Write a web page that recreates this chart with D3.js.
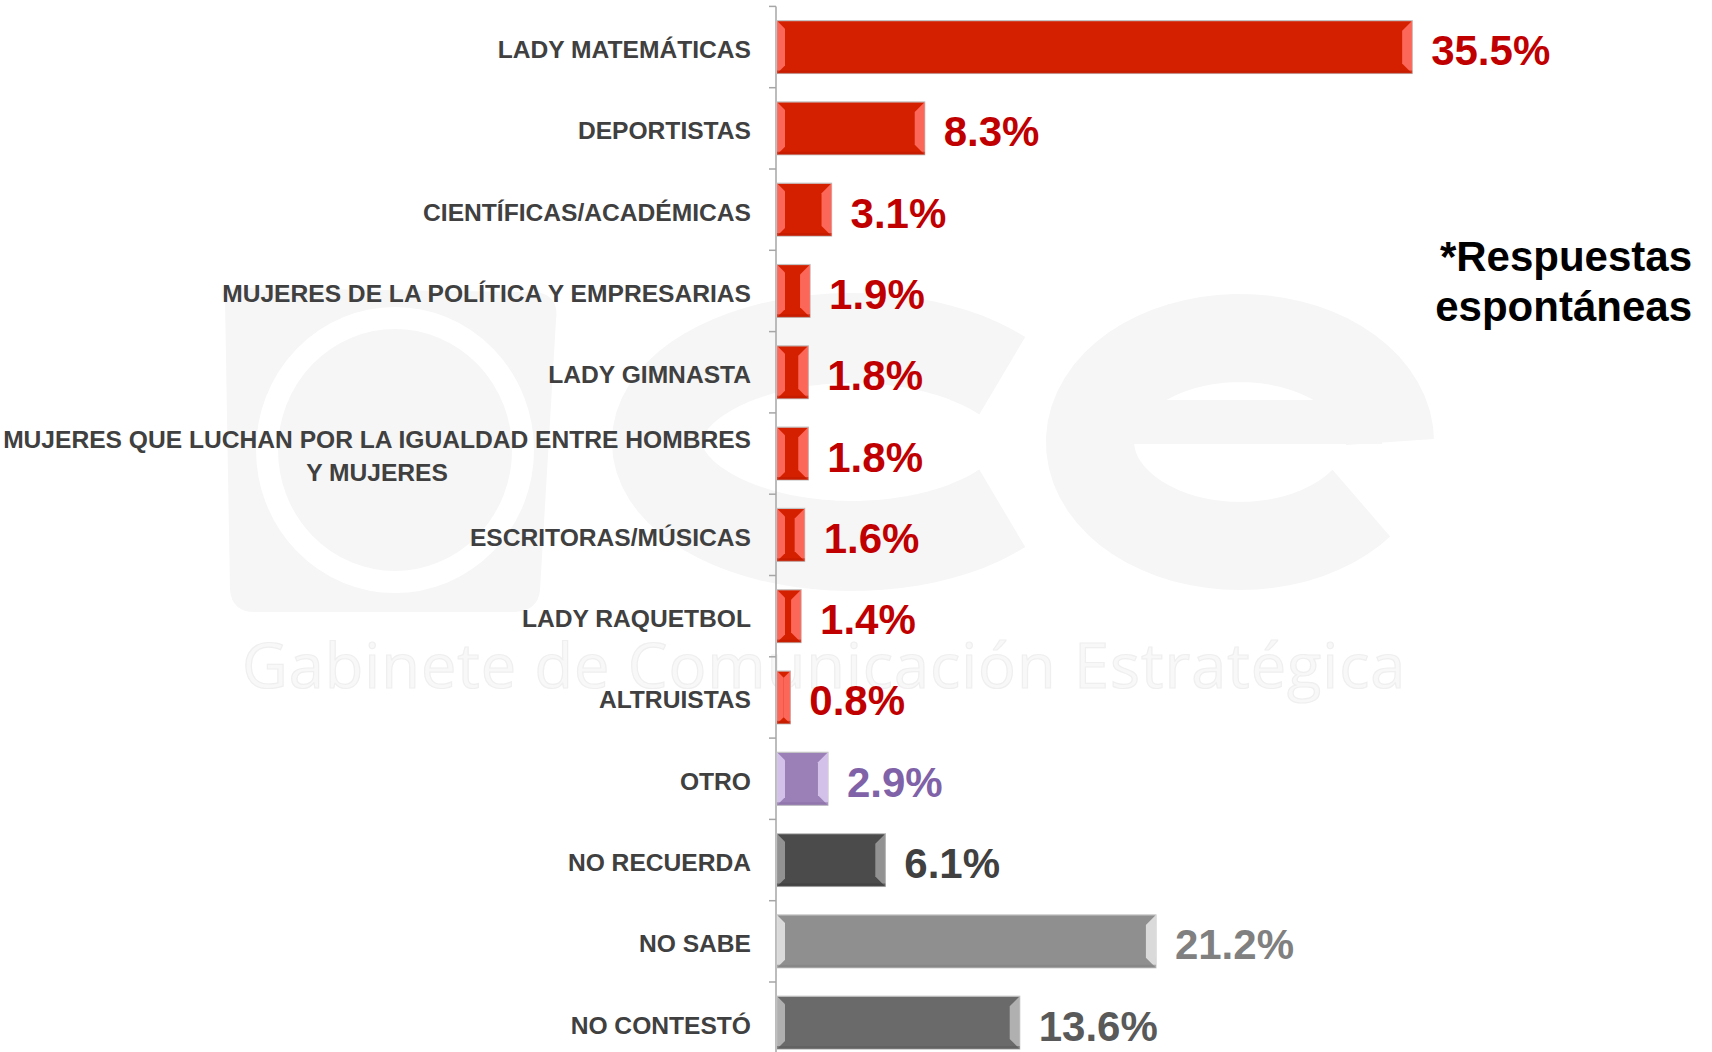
<!DOCTYPE html>
<html>
<head>
<meta charset="utf-8">
<script src="https://cdn.jsdelivr.net/npm/d3@7"></script>
<style>
  html, body { margin: 0; padding: 0; background: #ffffff; }
  svg { display: block; }
</style>
</head>
<body>
<svg id="chart" width="1712" height="1052"></svg>
<script>
// ---------- data ----------
const categories = [
  "LADY MATEMÁTICAS",
  "DEPORTISTAS",
  "CIENTÍFICAS/ACADÉMICAS",
  "MUJERES DE LA POLÍTICA Y EMPRESARIAS",
  "LADY GIMNASTA",
  "MUJERES QUE LUCHAN POR LA IGUALDAD ENTRE HOMBRES Y MUJERES",
  "ESCRITORAS/MÚSICAS",
  "LADY RAQUETBOL",
  "ALTRUISTAS",
  "OTRO",
  "NO RECUERDA",
  "NO SABE",
  "NO CONTESTÓ"
];
const labelLines = [
  ["LADY MATEMÁTICAS"],
  ["DEPORTISTAS"],
  ["CIENTÍFICAS/ACADÉMICAS"],
  ["MUJERES DE LA POLÍTICA Y EMPRESARIAS"],
  ["LADY GIMNASTA"],
  ["MUJERES QUE LUCHAN POR LA IGUALDAD ENTRE HOMBRES", "Y MUJERES"],
  ["ESCRITORAS/MÚSICAS"],
  ["LADY RAQUETBOL"],
  ["ALTRUISTAS"],
  ["OTRO"],
  ["NO RECUERDA"],
  ["NO SABE"],
  ["NO CONTESTÓ"]
];
const values = [35.5, 8.3, 3.1, 1.9, 1.8, 1.8, 1.6, 1.4, 0.8, 2.9, 6.1, 21.2, 13.6];
const groups = ["mention","mention","mention","mention","mention","mention","mention","mention","mention",
                "otro","norecuerda","nosabe","nocontesto"];
const noteLines = ["*Respuestas", "espontáneas"];
const watermarkText = "Gabinete de Comunicación Estratégica";

// ---------- styles ----------
const barFill  = { mention: "#d52000", otro: "#9a80b6", norecuerda: "#4b4b4b", nosabe: "#8f8f8f", nocontesto: "#6a6a6a" };
const barLight = { mention: "#ff6f62", otro: "#d9c8ee", norecuerda: "#9a9a9a", nosabe: "#e2e2e2", nocontesto: "#b8b8b8" };
const barDark  = { mention: "#c01a00", otro: "#8a70a6", norecuerda: "#3e3e3e", nosabe: "#828282", nocontesto: "#5e5e5e" };
const valColor = { mention: "#c00000", otro: "#7f62a8", norecuerda: "#404040", nosabe: "#808080", nocontesto: "#595959" };

const svg = d3.select("#chart");
const axisX = 776;

const x = d3.scaleLinear().domain([0, 40]).range([axisX, axisX + 40 * 17.92]);
const y = d3.scaleBand().domain(categories).range([6.4, 6.4 + 13 * 81.3]).paddingInner(0.35).paddingOuter(0.175);

// ---------- watermark ----------
const wm = svg.append("g").attr("class", "watermark");
const wmCol = "#f6f6f6";
// logo block
wm.append("path")
  .attr("d", "M225,300 Q215,290 240,288 L530,292 Q560,292 556,320 L540,590 Q538,612 512,612 L255,612 Q232,612 230,590 Z")
  .attr("fill", wmCol);
wm.append("ellipse").attr("cx", 395).attr("cy", 450).attr("rx", 128).attr("ry", 132)
  .attr("fill", wmCol).attr("stroke", "#ffffff").attr("stroke-width", 22);
// "c"
wm.append("path")
  .attr("d", () => {
    const cx = 852, cy = 442, rx = 195, ry = 104;
    const a0 = Math.PI * 0.22, a1 = Math.PI * 1.78;
    const p = d3.path();
    d3.range(0, 61).map(i => a0 + (a1 - a0) * i / 60).forEach((a, i) => {
      const px = cx + rx * Math.cos(a), py = cy - ry * Math.sin(a);
      if (i === 0) p.moveTo(px, py); else p.lineTo(px, py);
    });
    return p.toString();
  })
  .attr("fill", "none").attr("stroke", wmCol).attr("stroke-width", 90);
// "e"
wm.append("path")
  .attr("d", () => {
    const cx = 1240, cy = 442, rx = 150, ry = 104;
    const a0 = Math.PI * 0.0, a1 = Math.PI * 1.8;
    const p = d3.path();
    d3.range(0, 61).map(i => a0 + (a1 - a0) * i / 60).forEach((a, i) => {
      const px = cx + rx * Math.cos(a), py = cy - ry * Math.sin(a);
      if (i === 0) p.moveTo(px, py); else p.lineTo(px, py);
    });
    return p.toString();
  })
  .attr("fill", "none").attr("stroke", wmCol).attr("stroke-width", 88);
wm.append("rect").attr("x", 1120).attr("y", 400).attr("width", 262).attr("height", 44).attr("fill", wmCol);
wm.append("text").attr("x", 242).attr("y", 688)
  .attr("font-family", "Open Sans, sans-serif").attr("font-size", 63).attr("letter-spacing", 1)
  .attr("fill", "#f8f8f8").attr("stroke", "#efefef").attr("stroke-width", 1.2)
  .text(watermarkText);

// ---------- axis ----------
const step = y.step();
const halfGap = step * y.paddingInner() / 2;
const axisG = svg.append("g").attr("transform", `translate(${axisX},0)`)
  .call(d3.axisLeft(y).tickSize(0).tickFormat(""));
axisG.select(".domain").attr("stroke", "#a6a6a6").attr("stroke-width", 1.5)
  .attr("d", `M0,${y.range()[0]}V${y.range()[1]}`);
const boundaries = categories.map(c => y(c) - halfGap);
svg.append("g").selectAll("line").data(boundaries).join("line")
  .attr("x1", axisX - 7).attr("x2", axisX).attr("y1", d => d).attr("y2", d => d)
  .attr("stroke", "#a6a6a6").attr("stroke-width", 1.5);

// ---------- bars ----------
const bh = y.bandwidth();
const bars = svg.append("g").selectAll("g").data(categories).join("g");
bars.append("rect")
  .attr("x", axisX + 1)
  .attr("y", c => y(c))
  .attr("width", (c, i) => x(values[i]) - axisX - 1)
  .attr("height", bh)
  .attr("fill", (c, i) => barFill[groups[i]])
  .attr("stroke", "#c4c4c4").attr("stroke-width", 1.2);

// bevel facets
bars.append("path")
  .attr("d", (c, i) => {
    const x0 = axisX + 1, x1 = x(values[i]);
    const w = Math.min(8, (x1 - x0) / 2), y0 = y(c), y1 = y0 + bh;
    return `M${x0},${y0}L${x0 + w},${y0 + w}L${x0 + w},${y1 - w}L${x0},${y1}Z`;
  })
  .attr("fill", (c, i) => barLight[groups[i]]).attr("opacity", 0.9);
bars.append("path")
  .attr("d", (c, i) => {
    const x0 = axisX + 1, x1 = x(values[i]);
    const w = Math.min(10, (x1 - x0) / 2), y0 = y(c), y1 = y0 + bh;
    return `M${x1},${y0}L${x1 - w},${y0 + w}L${x1 - w},${y1 - w}L${x1},${y1}Z`;
  })
  .attr("fill", (c, i) => barLight[groups[i]]).attr("opacity", 0.9);
bars.append("path")
  .attr("d", (c, i) => {
    const x0 = axisX + 1, x1 = x(values[i]);
    const y1 = y(c) + bh;
    return `M${x0},${y1 - 1.5}H${x1}`;
  })
  .attr("stroke", (c, i) => barDark[groups[i]]).attr("stroke-width", 3).attr("opacity", 0.6);

// ---------- value labels ----------
svg.append("g").selectAll("text").data(categories).join("text")
  .attr("x", (c, i) => x(values[i]) + 19)
  .attr("y", c => y(c) + bh / 2 + 18)
  .attr("font-family", "Liberation Sans, Arial, sans-serif")
  .attr("font-weight", "bold")
  .attr("font-size", 42)
  .attr("fill", (c, i) => valColor[groups[i]])
  .text((c, i) => values[i].toFixed(1) + "%");

// ---------- category labels ----------
const labelRight = 751;
const lab = svg.append("g").selectAll("g").data(categories).join("g")
  .attr("font-family", "Liberation Sans, Arial, sans-serif")
  .attr("font-weight", "bold")
  .attr("font-size", 24.6)
  .attr("fill", "#404040");
lab.each(function (c, i) {
  const g = d3.select(this);
  const lines = labelLines[i];
  const cy = y(c) + bh / 2;
  if (lines.length === 1) {
    g.append("text").attr("x", labelRight).attr("y", cy + 11).attr("text-anchor", "end").text(lines[0]);
  } else {
    const t1 = g.append("text").attr("x", labelRight).attr("y", cy - 16.5 + 11).attr("text-anchor", "end").text(lines[0]);
    const w1 = t1.node().getComputedTextLength();
    g.append("text").attr("x", labelRight - w1 / 2).attr("y", cy + 16.5 + 11).attr("text-anchor", "middle").text(lines[1]);
  }
});

// ---------- note ----------
svg.append("g").selectAll("text").data(noteLines).join("text")
  .attr("x", 1692)
  .attr("y", (d, i) => 271 + i * 50)
  .attr("text-anchor", "end")
  .attr("font-family", "Liberation Sans, Arial, sans-serif")
  .attr("font-weight", "bold")
  .attr("font-size", 42)
  .attr("fill", "#000000")
  .text(d => d);
</script>
</body>
</html>
